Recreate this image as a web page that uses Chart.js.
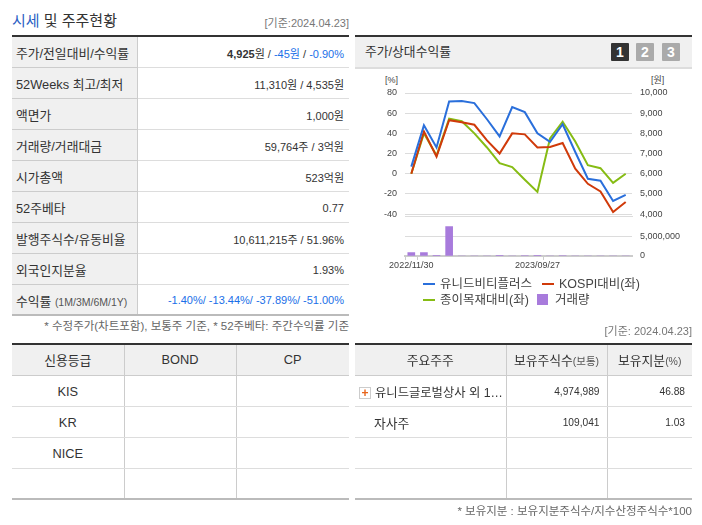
<!DOCTYPE html>
<html lang="ko">
<head>
<meta charset="utf-8">
<script src="https://cdn.jsdelivr.net/npm/chart.js@4"></script>
<style>
  html, body { margin: 0; padding: 0; background: #fff; }
  body { width: 702px; height: 525px; position: relative; overflow: hidden;
         font-family: "Liberation Sans", "Noto Sans CJK KR", sans-serif; font-size: 12.8px; color: #333; }
  .abs { position: absolute; white-space: nowrap; }
  table { position: absolute; border-collapse: collapse; table-layout: fixed; font-size: 12.8px; }
  td, th { font-weight: normal; padding: 2px 5px 0; height: 30px; box-sizing: border-box; white-space: nowrap; overflow: hidden; }
  .info { left: 12px; top: 35px; width: 337px; border-top: 2px solid #333; border-bottom: 2px solid #bbb; }
  .info td { border-bottom: 1px solid #ddd; height: 31px; text-align: right; font-size: 11px; }
  .info td:first-child { background: #f0f0f0; text-align: left; border-right: 1px solid #ccc; border-bottom: 1px solid #ccc; padding-left: 4px; font-size: 12.8px; }
  .grid { border-top: 2px solid #333; border-bottom: 2px solid #bbb; }
  .grid th { background: #f0f0f0; text-align: center; border-bottom: 1px solid #ccc; border-right: 1px solid #ccc; height: 31px; padding-top: 0; }
  .grid td { border-bottom: 1px solid #ddd; border-right: 1px solid #ccc; height: 31px; }
  .grid tr > *:last-child { border-right: 0; }
  .grid tr:last-child td { border-bottom: 0; }
  .blue { color: #1a6fe8; }
  .small { font-size: 10.5px; color: #555; }
  .note { font-size: 11.5px; color: #666; }
  .num { text-align: right; font-size: 10.2px; padding-right: 7px; }
  .ctr { text-align: center; }
  .btn { width: 18px; height: 18px; top: 43px; background: #aaa; color: #fff; font: bold 14px/18px "Liberation Sans", sans-serif; text-align: center; border-radius: 1px; }
  .swatch { position: absolute; }
  .leg { font-size: 12.5px; line-height: 18px; color: #444; }
  canvas { position: absolute; }
</style>
</head>
<body>
<div class="abs" style="left:12px;top:11px;font-size:15px;line-height:20px;"><span style="color:#2b5fc4">시세</span> 및 주주현황</div>
<div class="abs" style="right:353px;top:15px;font-size:11px;line-height:16px;color:#777;">[기준:2024.04.23]</div>

<table class="info">
  <colgroup><col style="width:125px"><col></colgroup>
  <tr><td>주가/전일대비/수익률</td><td><b>4,925</b>원 / <span class="blue">-45원</span> / <span class="blue">-0.90%</span></td></tr>
  <tr><td>52Weeks 최고/최저</td><td>11,310원 / 4,535원</td></tr>
  <tr><td>액면가</td><td>1,000원</td></tr>
  <tr><td>거래량/거래대금</td><td>59,764주 / 3억원</td></tr>
  <tr><td>시가총액</td><td>523억원</td></tr>
  <tr><td>52주베타</td><td>0.77</td></tr>
  <tr><td>발행주식수/유동비율</td><td>10,611,215주 / 51.96%</td></tr>
  <tr><td>외국인지분율</td><td>1.93%</td></tr>
  <tr><td>수익률 <span class="small">(1M/3M/6M/1Y)</span></td><td class="blue">-1.40%/ -13.44%/ -37.89%/ -51.00%</td></tr>
</table>
<div class="abs note" style="right:353px;top:318px;line-height:16px;">* 수정주가(차트포함), 보통주 기준, * 52주베타: 주간수익률 기준</div>

<table class="grid" style="left:12px;top:343px;width:337px;">
  <colgroup><col style="width:112px"><col style="width:112px"><col></colgroup>
  <tr><th>신용등급</th><th>BOND</th><th>CP</th></tr>
  <tr><td class="ctr">KIS</td><td></td><td></td></tr>
  <tr><td class="ctr">KR</td><td></td><td></td></tr>
  <tr><td class="ctr">NICE</td><td></td><td></td></tr>
  <tr><td></td><td></td><td></td></tr>
</table>

<div class="abs" style="left:355px;top:35px;width:337px;height:30px;border-top:2px solid #333;border-bottom:2px solid #ddd;background:#f0f0f0;"></div>
<div class="abs" style="left:365px;top:43px;font-size:12.8px;line-height:18px;">주가/상대수익률</div>
<div class="abs btn" style="left:611px;background:#333;">1</div>
<div class="abs btn" style="left:636px;">2</div>
<div class="abs btn" style="left:662px;">3</div>
<div class="abs" style="left:385px;top:74px;font-size:9px;line-height:12px;color:#444;">[%]</div>
<div class="abs" style="left:651px;top:74px;font-size:9px;line-height:12px;color:#444;">[원]</div>

<canvas id="priceChart"></canvas>
<canvas id="volumeChart"></canvas>

<div class="swatch" style="left:423px;top:283px;width:12px;height:2px;background:#2a6fdb;"></div>
<div class="abs leg" style="left:440px;top:275px;">유니드비티플러스</div>
<div class="swatch" style="left:542px;top:283px;width:12px;height:2px;background:#d03a0a;"></div>
<div class="abs leg" style="left:559px;top:275px;">KOSPI대비(좌)</div>
<div class="swatch" style="left:423px;top:299px;width:12px;height:2px;background:#86bc14;"></div>
<div class="abs leg" style="left:440px;top:291px;">종이목재대비(좌)</div>
<div class="swatch" style="left:537px;top:294px;width:11px;height:11px;background:#a87bdc;"></div>
<div class="abs leg" style="left:555px;top:291px;">거래량</div>

<div class="abs" style="right:10px;top:323px;font-size:11px;line-height:16px;color:#777;">[기준: 2024.04.23]</div>
<table class="grid" style="left:355px;top:343px;width:337px;">
  <colgroup><col style="width:151px"><col style="width:101px"><col></colgroup>
  <tr><th>주요주주</th><th>보유주식수<span class="small">(보통)</span></th><th>보유지분<span class="small">(%)</span></th></tr>
  <tr><td style="padding-left:4px;font-size:12.3px;"><span style="display:inline-block;width:10px;height:10px;border:1px solid #ccc;background:#fff;color:#e8641a;font:bold 12px/10px 'Liberation Sans';text-align:center;margin-right:4px;">+</span>유니드글로벌상사 외 1…</td><td class="num">4,974,989</td><td class="num">46.88</td></tr>
  <tr><td style="padding-left:19px;">자사주</td><td class="num">109,041</td><td class="num">1.03</td></tr>
  <tr><td></td><td></td><td></td></tr>
  <tr><td></td><td></td><td></td></tr>
</table>
<div class="abs note" style="right:10px;top:503px;line-height:16px;">* 보유지분 : 보유지분주식수/지수산정주식수*100</div>

<script>
const dates = ['2022/11/30', '', '', '', '', '', '', '', '', '', '2023/09/27', '', '', '', '', '', '', ''];
const stockReturn = [7, 48, 26, 71.5, 72, 70, 54, 37, 66, 61, 40, 31.5, 49, 21.5, -5, -7, -27, -21];
const kospiReturn = [0, 42, 17, 53, 51, 48.5, 33, 20, 40, 39, 26, 26.5, 30.5, 5, -10, -17.5, -38, -28];
const paperReturn = [0, 40, 18, 54.5, 52, 40, 26, 10.5, 6.5, -6, -18, 35, 51.5, 32, 8.5, 5.5, -9, 0];
const volumes = [900000, 900000, 100000, 7700000, 0, 0, 0, 150000, 0, 120000, 150000, 0, 120000, 0, 0, 0, 0, 0];
const leftTicks = [80, 60, 40, 20, 0, -20, -40];
const rightTicks = [10000, 9000, 8000, 7000, 6000, 5000, 4000];
const volumeTicks = [0, 5000000];

const GRID = '#dcdcdc';
const TICK_FONT = { family: '"Liberation Sans", sans-serif', size: 9 };
const LEFT_W = 45, RIGHT_W = 58;   // gives a plot from x=405 to x=632 on a 330px canvas

function place(id, left, top, width, height) {
    const c = document.getElementById(id);
    c.style.left = left + 'px';
    c.style.top = top + 'px';
    c.style.width = width + 'px';
    c.style.height = height + 'px';
    c.width = width;
    c.height = height;
    return c;
}

function setTicks(list) {
    return (scale) => { scale.ticks = list.map(v => ({ value: v })); };
}

function lineSet(label, data, color) {
    return { label, data, borderColor: color, borderWidth: 2, pointRadius: 0, tension: 0, fill: false, yAxisID: 'y' };
}

new Chart(place('priceChart', 360, 75, 330, 155), {
    type: 'line',
    data: {
        labels: dates,
        datasets: [
            lineSet('유니드비티플러스', stockReturn, '#2a6fdb'),
            lineSet('KOSPI대비(좌)', kospiReturn, '#d03a0a'),
            lineSet('종이목재대비(좌)', paperReturn, '#86bc14')
        ]
    },
    options: {
        responsive: false,
        animation: false,
        devicePixelRatio: 1,
        layout: { padding: { top: 18, bottom: 3.5, left: 0, right: 0 } },
        plugins: { legend: { display: false }, tooltip: { enabled: false } },
        scales: {
            x: {
                offset: true,
                grid: { display: false },
                ticks: { display: false },
                border: { color: GRID, width: 1 },
                afterFit: (s) => { s.height = 0; }
            },
            y: {
                min: -42.5, max: 80,
                afterBuildTicks: setTicks(leftTicks),
                grid: { color: GRID, tickLength: 0 },
                border: { display: false },
                ticks: { font: TICK_FONT, color: '#444', padding: 8 },
                afterFit: (s) => { s.width = LEFT_W; }
            },
            yRight: {
                position: 'right',
                min: 3875, max: 10000,
                afterBuildTicks: setTicks(rightTicks),
                grid: { display: false },
                border: { display: false },
                ticks: { font: TICK_FONT, color: '#444', padding: 0,
                         callback: (v) => v.toLocaleString('en-US') },
                afterFit: (s) => { s.width = RIGHT_W; }
            }
        }
    }
});

const shownGrid = [0, 1, 11];   // tick marks sit on band edges
const tickCol = (ctx) => shownGrid.includes(ctx.index) ? '#ccc' : 'transparent';

new Chart(place('volumeChart', 360, 220, 330, 53), {
    type: 'bar',
    data: {
        labels: dates,
        datasets: [{ label: '거래량', data: volumes, backgroundColor: '#a87bdc', barThickness: 7 }]
    },
    options: {
        responsive: false,
        animation: false,
        devicePixelRatio: 1,
        layout: { padding: { top: 4, bottom: 0, left: 0, right: 0 } },
        plugins: { legend: { display: false }, tooltip: { enabled: false } },
        scales: {
            x: {
                grid: { offset: true, drawOnChartArea: false, color: tickCol, tickColor: tickCol, tickLength: 4 },
                border: { color: '#ccc', width: 2 },
                ticks: { font: TICK_FONT, color: '#444', autoSkip: false, maxRotation: 0, padding: 0,
                         callback: function (v) { return this.getLabelForValue(v); } },
                afterFit: (s) => { s.height = 17; }
            },
            y: {
                min: 0, max: 8000000,
                afterBuildTicks: setTicks(volumeTicks),
                grid: { color: (ctx) => ctx.tick.value === 0 ? 'transparent' : GRID, tickLength: 0 },
                border: { display: false },
                ticks: { display: false },
                afterFit: (s) => { s.width = LEFT_W; }
            },
            yRight: {
                position: 'right',
                min: 0, max: 8000000,
                afterBuildTicks: setTicks(volumeTicks),
                grid: { display: false },
                border: { display: false },
                ticks: { font: TICK_FONT, color: '#444', padding: 0,
                         callback: (v) => v.toLocaleString('en-US') },
                afterFit: (s) => { s.width = RIGHT_W; }
            }
        }
    }
});
</script>
</body>
</html>
